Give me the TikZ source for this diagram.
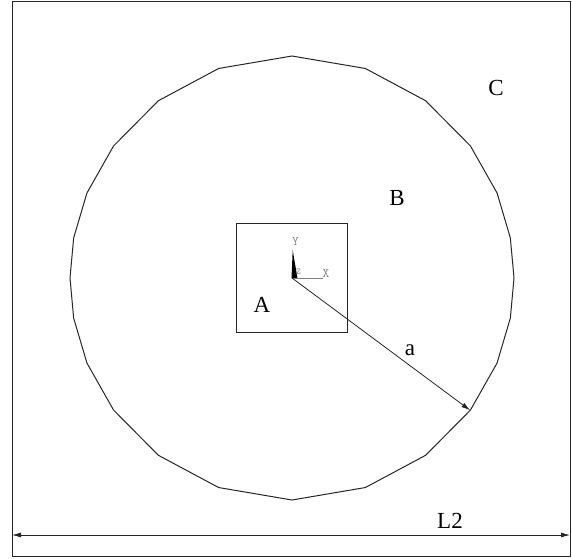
\documentclass[tikz,border=0pt]{standalone}
\usepackage{fontspec}
\setmainfont{Liberation Serif}
\usetikzlibrary{arrows.meta, calc}
\begin{document}
\begin{tikzpicture}[x=1pt, y=-1pt]
    \tikzset{edge/.style={line width=1pt, black!85},
             lbl/.style={font=\fontsize{23}{23}\selectfont, inner sep=0pt},
             ax/.style={font=\ttfamily\fontsize{13}{13}\selectfont, text=gray, inner sep=0pt}}
    \useasboundingbox (0,0) rectangle (572,558);

    % ---- Outer domain C ----
    \draw[edge] (12,1) rectangle (570,556);

    % ---- Circle B (24 mesh nodes) ----
    \coordinate (O) at (292,278);
    \draw[edge, shift={(O)}] (0:222)
        \foreach \t in {10.4,22.5,36.5,53,70.7,90,109.3,127,143.5,157.5,169.6,180,
                        190.4,202.5,216.5,233,250.7,270,289.3,307,323.5,337.5,349.6}
        { -- (\t:222) } -- cycle;

    % ---- Inclusion A ----
    \node[edge, draw, minimum width=111pt, minimum height=109pt, inner sep=0pt]
        (sqA) at (291.5,277.5) {};

    % ---- Triad ----
    \fill (291.5,278.3) -- (292.7,250) -- (297.5,278.3) -- cycle;
    \draw[gray, line width=0.8pt] (292,278.3) -- (322.7,278.3);
    \node[ax] (tY) at (295.5,242) {Y};
    \node[ax] (tX) at (326,274) {X};
    \node[ax, font=\ttfamily\fontsize{9}{9}\selectfont] (tZ) at (298.5,272) {Z};

    % ---- Radius a ----
    \coordinate (Pa) at ($(O)+(36.6:222)$);
    \draw[black!85, line width=0.8pt, -{Latex[length=9pt, width=5pt]}] (O) -- (Pa);
    \node[lbl] (la) at (410,350) {a};

    % ---- Region labels ----
    \node[lbl] (lA) at (262,305) {A};
    \node[lbl] (lB) at (397,198) {B};
    \node[lbl] (lC) at (496,88) {C};

    % ---- Width L2 ----
    \coordinate (d1) at (12,535);
    \coordinate (d2) at (570,535);
    \draw[black!85, line width=0.8pt, {Latex[length=9pt, width=5pt]}-{Latex[length=9pt, width=5pt]}] (d1) -- (d2);
    \node[lbl] (lL) at (450,521) {L2};
\end{tikzpicture}
\end{document}
